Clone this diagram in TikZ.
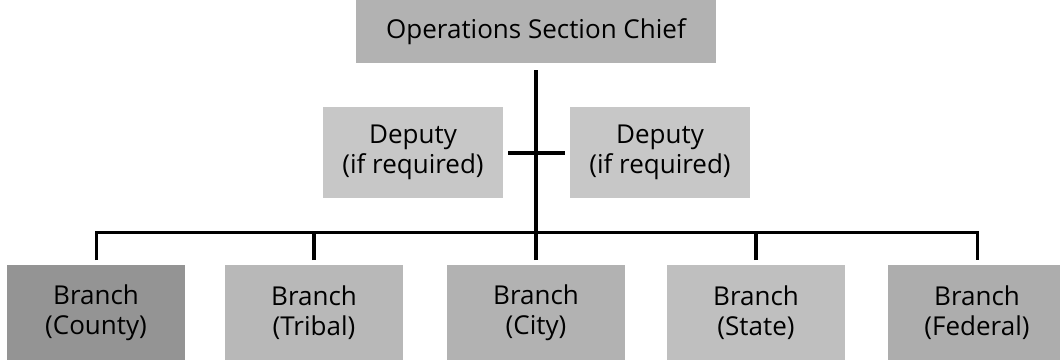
\documentclass[tikz,border=0pt]{standalone}
\usepackage{fontspec}
\setmainfont{Open Sans}
\begin{document}
\begin{tikzpicture}[x=1pt,y=1pt,
  box/.style={rectangle, draw=none, align=center, inner sep=0pt, outer sep=5pt,
    font=\fontsize{26}{30}\selectfont},
  chiefbox/.style={box, minimum width=360pt, minimum height=63pt, outer sep=7pt},
  depbox/.style={box, minimum width=180pt, minimum height=91pt},
  brbox/.style={box, minimum width=178pt, minimum height=95pt},
  conn/.style={line width=4pt, line cap=butt}]
\useasboundingbox (0,0) rectangle (1060,-359);
\node[chiefbox, fill=black!30] (chief) at (536,-31.5) {Operations Section Chief};
\node[depbox, fill=black!22] (dl) at (413,-152.5) {Deputy\\(if required)};
\node[depbox, fill=black!22] (dr) at (660,-152.5) {Deputy\\(if required)};
\node[brbox, fill=black!42] (b1) at (96,-312.5) {Branch\\(County)};
\node[brbox, fill=black!28] (b2) at (314,-312.5) {Branch\\(Tribal)};
\node[brbox, fill=black!30] (b3) at (536,-312.5) {Branch\\(City)};
\node[brbox, fill=black!25] (b4) at (756,-312.5) {Branch\\(State)};
\node[brbox, fill=black!32] (b5) at (977,-312.5) {Branch\\(Federal)};
\coordinate (j) at (536,-232);
\draw[conn] (chief.south) -- (j);
\draw[conn] (dl.east) -- (dr.west);
\draw[conn, line width=3pt] (b1.north) |- (j) -| (b5.north);
\draw[conn] (b2.north) -- (b2.north |- j);
\draw[conn] (b3.north) -- (j);
\draw[conn] (b4.north) -- (b4.north |- j);
\end{tikzpicture}
\end{document}
